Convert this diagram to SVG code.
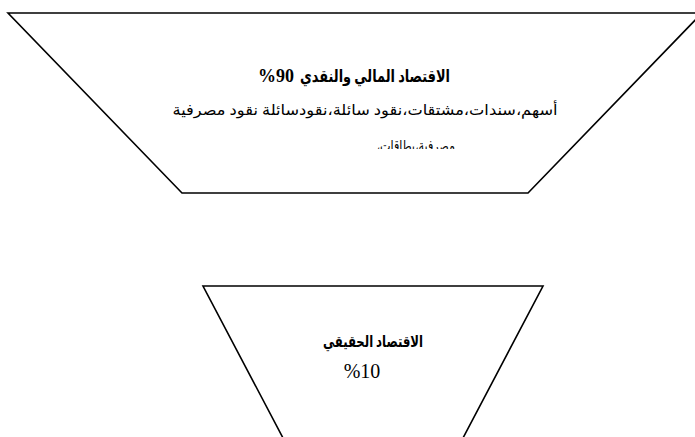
<svg xmlns="http://www.w3.org/2000/svg" width="695" height="437" viewBox="0 0 695 437">
<style>
.shape{fill:#fff;stroke:#000;stroke-width:1.6;}
.t{font-family:"Liberation Serif","DejaVu Serif","DejaVu Sans",serif;fill:#000;text-anchor:middle;}
.ar{direction:rtl;unicode-bidi:embed;}
.num{direction:ltr;unicode-bidi:bidi-override;}
.b{font-weight:bold;}
</style>
<defs>
<clipPath id="clip3"><rect x="300" y="130" width="200" height="19"/></clipPath>
</defs>
<rect width="695" height="437" fill="#fff"/>
<g id="financial">
<polygon class="shape" points="8,13 702,13 528,193 182,193"/>
<text class="t b num" x="258" y="82" font-size="18" style="text-anchor:start">%90</text>
<text class="t b ar" x="450" y="82" font-size="17" style="text-anchor:start" textLength="150" lengthAdjust="spacingAndGlyphs">الاقتصاد المالي والنقدي</text>
<text class="t ar" x="365" y="115" font-size="15" textLength="385" lengthAdjust="spacingAndGlyphs">أسهم،سندات،مشتقات،نقود سائلة،نقودسائلة  نقود مصرفية</text>
<g clip-path="url(#clip3)">
<text class="t ar" x="406" y="151" font-size="15" textLength="98" lengthAdjust="spacingAndGlyphs">مصرفية،بطاقات،.......</text>
</g>
</g>
<g id="real">
<polygon class="shape" points="203,286 543,286 463,438 283,438"/>
<text class="t b ar" x="373" y="347" font-size="16" textLength="100" lengthAdjust="spacingAndGlyphs">الاقتصاد الحقيقي</text>
<text class="t num" x="362" y="378" font-size="20">%10</text>
</g>
<g id="connectors"/>
</svg>
